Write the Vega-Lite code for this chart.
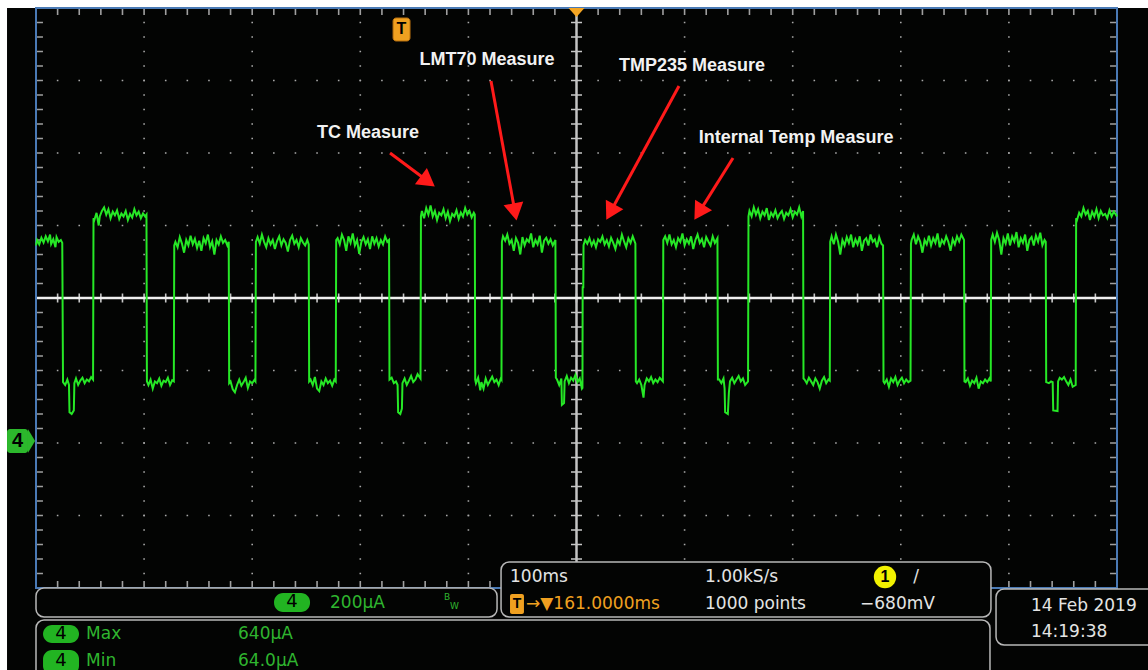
{
"$schema": "https://vega.github.io/schema/vega-lite/v6.json",
"width": 1148, "height": 670, "padding": 0, "autosize": {"type": "none"},
"background": "#ffffff",
"config": {"view": {"stroke": null}},
"encoding": {
  "x": {"field": "x", "type": "quantitative", "scale": {"domain": [-33.3, 1028.68], "nice": false, "zero": false}, "axis": null},
  "y": {"field": "y", "type": "quantitative", "scale": {"domain": [-626.21, 1222.07], "nice": false, "zero": false}, "axis": null}
},
"layer": [
  {"data": {"values": [{"x": -26.8, "x2": 1100, "y": 1200, "y2": -700}]},
   "mark": {"type": "rect", "fill": "#030403"},
   "encoding": {"x2": {"field": "x2"}, "y2": {"field": "y2"}}},
  {"data": {"values": [{"x": 100, "y": 1200, "y2": -400}, {"x": 200, "y": 1200, "y2": -400}, {"x": 300, "y": 1200, "y2": -400}, {"x": 400, "y": 1200, "y2": -400}, {"x": 600, "y": 1200, "y2": -400}, {"x": 700, "y": 1200, "y2": -400}, {"x": 800, "y": 1200, "y2": -400}, {"x": 900, "y": 1200, "y2": -400}]},
   "mark": {"type": "rule", "color": "#a8a8a8", "strokeWidth": 1.6, "strokeDash": [1.6, 12.9], "strokeDashOffset": 0.8},
   "encoding": {"y2": {"field": "y2"}}},
  {"data": {"values": [{"y": 1000, "x": 0, "x2": 1000}, {"y": 800, "x": 0, "x2": 1000}, {"y": 600, "x": 0, "x2": 1000}, {"y": 200, "x": 0, "x2": 1000}, {"y": 0, "x": 0, "x2": 1000}, {"y": -200, "x": 0, "x2": 1000}]},
   "mark": {"type": "rule", "color": "#a8a8a8", "strokeWidth": 1.6, "strokeDash": [1.6, 20.02], "strokeDashOffset": 0.8},
   "encoding": {"x2": {"field": "x2"}}},
  {"data": {"values": [{"x": 3.2, "y": 1200, "y2": -400}, {"x": 996.8, "y": 1200, "y2": -400}]},
   "mark": {"type": "rule", "color": "#a0a0a0", "strokeWidth": 7, "strokeDash": [1.6, 12.9], "strokeDashOffset": 0.8},
   "encoding": {"y2": {"field": "y2"}}},
  {"data": {"values": [{"y": 1190.3, "x": 0, "x2": 1000}, {"y": -390.3, "x": 0, "x2": 1000}]},
   "mark": {"type": "rule", "color": "#a0a0a0", "strokeWidth": 7, "strokeDash": [1.6, 20.02], "strokeDashOffset": 0.8},
   "encoding": {"x2": {"field": "x2"}}},
  {"data": {"values": [{"y": 400, "x": 0, "x2": 1000}]},
   "mark": {"type": "rule", "color": "#c8c8c8", "strokeWidth": 9, "strokeDash": [1.6, 20.02], "strokeDashOffset": 0.8},
   "encoding": {"x2": {"field": "x2"}}},
  {"data": {"values": [{"x": 500, "y": 1200, "y2": -400}]},
   "mark": {"type": "rule", "color": "#c8c8c8", "strokeWidth": 11, "strokeDash": [1.6, 12.9], "strokeDashOffset": 0.8},
   "encoding": {"y2": {"field": "y2"}}},
  {"data": {"values": [{"x": 500, "y": 1200, "y2": -400}]},
   "mark": {"type": "rule", "color": "#c4c4c4", "strokeWidth": 2.5},
   "encoding": {"y2": {"field": "y2"}}},
  {"data": {"values": [{"y": 400, "x": 0, "x2": 1000}]},
   "mark": {"type": "rule", "color": "#f0f0f0", "strokeWidth": 2.5},
   "encoding": {"x2": {"field": "x2"}}},
  {"data": {"values": [{"x": 0, "x2": 1000, "y": -400, "y2": 1200}]},
   "mark": {"type": "rect", "fillOpacity": 0, "stroke": "#4a7ab5", "strokeWidth": 2},
   "encoding": {"x2": {"field": "x2"}, "y2": {"field": "y2"}}},
  {"data": {"values": [
{"x":0,"y":545},{"x":1,"y":560},{"x":3,"y":548},{"x":5,"y":566},{"x":7,"y":553},{"x":9,"y":570},{"x":11,"y":556},{"x":13,"y":575},{"x":14,"y":549},{"x":16,"y":562},{"x":18,"y":540},{"x":19,"y":568},{"x":21,"y":555},{"x":23,"y":560},{"x":24.3,"y":552},
{"x":25,"y":168},{"x":27,"y":160},{"x":29,"y":175},{"x":30.5,"y":160},{"x":31,"y":85},{"x":33,"y":80},{"x":35,"y":90},{"x":35.5,"y":165},{"x":37,"y":178},{"x":39,"y":160},{"x":41,"y":172},{"x":43,"y":180},{"x":45,"y":165},{"x":47,"y":175},{"x":49,"y":170},{"x":51,"y":182},{"x":52.8,"y":175},
{"x":53.2,"y":620},{"x":54,"y":615},{"x":56,"y":635},{"x":58,"y":600},{"x":59,"y":625},{"x":61,"y":640},{"x":63,"y":650},{"x":65,"y":630},{"x":67,"y":645},{"x":69,"y":620},{"x":71,"y":638},{"x":73,"y":628},{"x":75,"y":642},{"x":77,"y":618},{"x":79,"y":633},{"x":81,"y":625},{"x":83,"y":640},{"x":85,"y":615},{"x":87,"y":632},{"x":89,"y":622},{"x":91,"y":645},{"x":93,"y":628},{"x":95,"y":638},{"x":97,"y":620},{"x":99,"y":633},{"x":101,"y":625},{"x":102.2,"y":630},
{"x":102.6,"y":170},{"x":104,"y":160},{"x":106,"y":175},{"x":108,"y":150},{"x":110,"y":170},{"x":112,"y":165},{"x":114,"y":178},{"x":116,"y":158},{"x":118,"y":172},{"x":120,"y":168},{"x":122,"y":180},{"x":124,"y":160},{"x":126,"y":173},{"x":127.5,"y":170},
{"x":127.9,"y":545},{"x":129,"y":555},{"x":131,"y":540},{"x":133,"y":568},{"x":135,"y":550},{"x":137,"y":525},{"x":139,"y":560},{"x":141,"y":545},{"x":143,"y":572},{"x":145,"y":548},{"x":147,"y":563},{"x":149,"y":538},{"x":151,"y":558},{"x":153,"y":530},{"x":155,"y":565},{"x":157,"y":551},{"x":159,"y":575},{"x":161,"y":540},{"x":163,"y":556},{"x":165,"y":520},{"x":167,"y":560},{"x":169,"y":548},{"x":171,"y":570},{"x":173,"y":552},{"x":175,"y":560},{"x":177,"y":545},{"x":178.3,"y":555},
{"x":178.7,"y":165},{"x":180,"y":170},{"x":182,"y":148},{"x":184,"y":140},{"x":186,"y":160},{"x":188,"y":175},{"x":190,"y":158},{"x":192,"y":168},{"x":194,"y":180},{"x":196,"y":152},{"x":198,"y":170},{"x":200,"y":165},{"x":202,"y":174},{"x":203,"y":170},
{"x":203.4,"y":555},{"x":205,"y":568},{"x":207,"y":550},{"x":209,"y":575},{"x":211,"y":555},{"x":213,"y":540},{"x":215,"y":565},{"x":217,"y":548},{"x":219,"y":560},{"x":221,"y":535},{"x":223,"y":557},{"x":225,"y":570},{"x":227,"y":545},{"x":229,"y":562},{"x":231,"y":552},{"x":233,"y":528},{"x":235,"y":560},{"x":237,"y":572},{"x":239,"y":550},{"x":241,"y":560},{"x":243,"y":540},{"x":245,"y":565},{"x":247,"y":553},{"x":249,"y":545},{"x":251,"y":560},{"x":252.3,"y":548},
{"x":252.7,"y":170},{"x":254,"y":175},{"x":256,"y":160},{"x":258,"y":182},{"x":260,"y":150},{"x":262,"y":143},{"x":264,"y":170},{"x":266,"y":160},{"x":268,"y":178},{"x":270,"y":165},{"x":272,"y":172},{"x":274,"y":158},{"x":276,"y":175},{"x":277.3,"y":170},
{"x":277.7,"y":560},{"x":279,"y":565},{"x":281,"y":548},{"x":283,"y":575},{"x":285,"y":560},{"x":287,"y":530},{"x":289,"y":570},{"x":291,"y":552},{"x":293,"y":578},{"x":295,"y":545},{"x":297,"y":560},{"x":299,"y":522},{"x":301,"y":555},{"x":303,"y":568},{"x":305,"y":548},{"x":307,"y":562},{"x":309,"y":535},{"x":311,"y":570},{"x":313,"y":550},{"x":315,"y":565},{"x":317,"y":542},{"x":319,"y":560},{"x":321,"y":548},{"x":323,"y":570},{"x":325,"y":555},{"x":326.6,"y":560},
{"x":327,"y":175},{"x":329,"y":180},{"x":331,"y":165},{"x":333,"y":170},{"x":334.5,"y":160},{"x":335,"y":85},{"x":337,"y":80},{"x":338.5,"y":95},{"x":339,"y":165},{"x":341,"y":178},{"x":343,"y":160},{"x":345,"y":172},{"x":347,"y":185},{"x":349,"y":168},{"x":351,"y":175},{"x":353,"y":190},{"x":355.7,"y":178},
{"x":356.1,"y":625},{"x":357,"y":640},{"x":359,"y":620},{"x":361,"y":648},{"x":363,"y":630},{"x":365,"y":655},{"x":367,"y":625},{"x":369,"y":640},{"x":371,"y":615},{"x":373,"y":635},{"x":375,"y":628},{"x":377,"y":645},{"x":379,"y":620},{"x":381,"y":638},{"x":383,"y":612},{"x":385,"y":632},{"x":387,"y":625},{"x":389,"y":642},{"x":391,"y":618},{"x":393,"y":636},{"x":395,"y":625},{"x":397,"y":648},{"x":399,"y":630},{"x":401,"y":640},{"x":403,"y":622},{"x":405,"y":635},{"x":405.9,"y":630},
{"x":406.3,"y":175},{"x":407,"y":165},{"x":409,"y":180},{"x":411,"y":145},{"x":412,"y":168},{"x":414,"y":150},{"x":416,"y":178},{"x":418,"y":160},{"x":420,"y":172},{"x":422,"y":183},{"x":424,"y":168},{"x":426,"y":175},{"x":428,"y":160},{"x":430,"y":178},{"x":430.6,"y":175},
{"x":431,"y":555},{"x":432,"y":570},{"x":434,"y":558},{"x":436,"y":575},{"x":438,"y":550},{"x":440,"y":560},{"x":442,"y":530},{"x":444,"y":565},{"x":446,"y":552},{"x":448,"y":520},{"x":450,"y":568},{"x":452,"y":545},{"x":454,"y":562},{"x":456,"y":555},{"x":458,"y":578},{"x":460,"y":540},{"x":462,"y":560},{"x":464,"y":548},{"x":466,"y":572},{"x":468,"y":525},{"x":470,"y":558},{"x":472,"y":566},{"x":474,"y":550},{"x":476,"y":562},{"x":478,"y":545},{"x":480.5,"y":560},
{"x":480.9,"y":180},{"x":482,"y":175},{"x":484,"y":160},{"x":486,"y":178},{"x":486.5,"y":105},{"x":488.5,"y":110},{"x":489,"y":170},{"x":491,"y":185},{"x":493,"y":165},{"x":495,"y":180},{"x":497,"y":172},{"x":499,"y":188},{"x":501,"y":168},{"x":503,"y":178},{"x":505,"y":150},{"x":505.5,"y":152},
{"x":505.7,"y":430},{"x":506.3,"y":430},{"x":506.5,"y":546},{"x":508,"y":560},{"x":510,"y":550},{"x":512,"y":565},{"x":514,"y":545},{"x":516,"y":558},{"x":518,"y":540},{"x":520,"y":562},{"x":522,"y":555},{"x":524,"y":570},{"x":526,"y":548},{"x":528,"y":560},{"x":530,"y":542},{"x":532,"y":566},{"x":534,"y":552},{"x":536,"y":535},{"x":538,"y":560},{"x":540,"y":548},{"x":542,"y":575},{"x":544,"y":556},{"x":546,"y":540},{"x":548,"y":565},{"x":550,"y":552},{"x":552,"y":570},{"x":554.5,"y":550},
{"x":554.9,"y":170},{"x":556,"y":165},{"x":558,"y":175},{"x":560,"y":160},{"x":562,"y":125},{"x":563,"y":160},{"x":565,"y":178},{"x":567,"y":170},{"x":569,"y":182},{"x":571,"y":165},{"x":573,"y":175},{"x":575,"y":168},{"x":577,"y":180},{"x":579.9,"y":170},
{"x":580.3,"y":560},{"x":582,"y":570},{"x":584,"y":552},{"x":586,"y":575},{"x":588,"y":548},{"x":590,"y":560},{"x":592,"y":540},{"x":594,"y":565},{"x":596,"y":555},{"x":598,"y":578},{"x":600,"y":545},{"x":602,"y":562},{"x":604,"y":550},{"x":606,"y":570},{"x":608,"y":535},{"x":610,"y":560},{"x":612,"y":575},{"x":614,"y":552},{"x":616,"y":563},{"x":618,"y":540},{"x":620,"y":568},{"x":622,"y":556},{"x":624,"y":545},{"x":626,"y":570},{"x":628,"y":552},{"x":630.4,"y":565},
{"x":630.8,"y":175},{"x":632,"y":175},{"x":634,"y":165},{"x":636,"y":178},{"x":637,"y":150},{"x":637.5,"y":85},{"x":640,"y":80},{"x":641,"y":140},{"x":642,"y":170},{"x":644,"y":180},{"x":646,"y":165},{"x":648,"y":175},{"x":650,"y":185},{"x":652,"y":170},{"x":654,"y":178},{"x":656,"y":160},{"x":658.7,"y":170},
{"x":659.1,"y":625},{"x":660,"y":640},{"x":662,"y":625},{"x":664,"y":650},{"x":666,"y":630},{"x":668,"y":645},{"x":670,"y":620},{"x":672,"y":638},{"x":674,"y":628},{"x":676,"y":648},{"x":678,"y":615},{"x":680,"y":635},{"x":682,"y":625},{"x":684,"y":642},{"x":686,"y":620},{"x":688,"y":632},{"x":690,"y":640},{"x":692,"y":618},{"x":694,"y":635},{"x":696,"y":628},{"x":698,"y":645},{"x":700,"y":622},{"x":702,"y":638},{"x":704,"y":630},{"x":706,"y":650},{"x":708,"y":625},{"x":709.6,"y":640},
{"x":710,"y":178},{"x":711,"y":175},{"x":713,"y":165},{"x":715,"y":180},{"x":717,"y":170},{"x":719,"y":160},{"x":721,"y":178},{"x":723,"y":168},{"x":725,"y":150},{"x":727,"y":172},{"x":729,"y":182},{"x":731,"y":165},{"x":733,"y":175},{"x":734.3,"y":172},
{"x":734.7,"y":555},{"x":736,"y":570},{"x":738,"y":548},{"x":740,"y":575},{"x":742,"y":555},{"x":744,"y":520},{"x":746,"y":560},{"x":748,"y":545},{"x":750,"y":568},{"x":752,"y":552},{"x":754,"y":575},{"x":756,"y":540},{"x":758,"y":562},{"x":760,"y":548},{"x":762,"y":570},{"x":764,"y":530},{"x":766,"y":558},{"x":768,"y":565},{"x":770,"y":545},{"x":772,"y":575},{"x":774,"y":555},{"x":776,"y":562},{"x":778,"y":540},{"x":780,"y":568},{"x":782,"y":550},{"x":783.6,"y":545},
{"x":784,"y":170},{"x":785,"y":165},{"x":787,"y":175},{"x":789,"y":155},{"x":791,"y":178},{"x":793,"y":168},{"x":795,"y":182},{"x":797,"y":160},{"x":799,"y":172},{"x":801,"y":180},{"x":803,"y":165},{"x":805,"y":175},{"x":807,"y":168},{"x":809,"y":172},
{"x":809.4,"y":550},{"x":810,"y":560},{"x":812,"y":575},{"x":814,"y":548},{"x":816,"y":570},{"x":818,"y":555},{"x":820,"y":525},{"x":822,"y":560},{"x":824,"y":548},{"x":826,"y":572},{"x":828,"y":545},{"x":830,"y":565},{"x":832,"y":552},{"x":834,"y":578},{"x":836,"y":540},{"x":838,"y":560},{"x":840,"y":550},{"x":842,"y":570},{"x":844,"y":555},{"x":846,"y":530},{"x":848,"y":562},{"x":850,"y":548},{"x":852,"y":570},{"x":854,"y":556},{"x":856,"y":575},{"x":858.5,"y":560},
{"x":858.9,"y":170},{"x":860,"y":168},{"x":862,"y":178},{"x":864,"y":158},{"x":866,"y":172},{"x":868,"y":165},{"x":870,"y":180},{"x":872,"y":150},{"x":874,"y":170},{"x":876,"y":165},{"x":878,"y":175},{"x":880,"y":168},{"x":882,"y":178},{"x":883.2,"y":170},
{"x":883.6,"y":560},{"x":885,"y":575},{"x":887,"y":555},{"x":889,"y":580},{"x":891,"y":560},{"x":893,"y":520},{"x":895,"y":565},{"x":897,"y":550},{"x":899,"y":578},{"x":901,"y":545},{"x":903,"y":570},{"x":905,"y":556},{"x":907,"y":582},{"x":909,"y":540},{"x":911,"y":565},{"x":913,"y":552},{"x":915,"y":575},{"x":917,"y":530},{"x":919,"y":560},{"x":921,"y":568},{"x":923,"y":545},{"x":925,"y":572},{"x":927,"y":555},{"x":929,"y":580},{"x":931,"y":545},{"x":933,"y":560},{"x":934.1,"y":555},
{"x":934.5,"y":168},{"x":937,"y":165},{"x":939,"y":170},{"x":940.5,"y":168},{"x":941,"y":90},{"x":945,"y":88},{"x":945.5,"y":170},{"x":947,"y":180},{"x":949,"y":175},{"x":951,"y":182},{"x":953,"y":170},{"x":955,"y":160},{"x":957,"y":175},{"x":959,"y":155},{"x":961.8,"y":160},
{"x":962.2,"y":620},{"x":963,"y":615},{"x":965,"y":635},{"x":967,"y":625},{"x":969,"y":648},{"x":971,"y":630},{"x":973,"y":640},{"x":975,"y":615},{"x":977,"y":638},{"x":979,"y":625},{"x":981,"y":645},{"x":983,"y":620},{"x":985,"y":640},{"x":987,"y":628},{"x":989,"y":632},{"x":991,"y":620},{"x":993,"y":642},{"x":995,"y":625},{"x":997,"y":638},{"x":999,"y":630},{"x":1000,"y":625}
  ]},
   "mark": {"type": "line", "color": "#26e826", "strokeWidth": 2, "interpolate": "linear"}},
  {"data": {"values": [{"x": 327.5, "y": 800.0, "x2": 362.5, "y2": 721.9}, {"x": 420.9, "y": 998.6, "x2": 443.1, "y2": 637.5}, {"x": 594.8, "y": 984.8, "x2": 531.4, "y2": 637.0}, {"x": 644.8, "y": 786.2, "x2": 613.3, "y2": 636.1}]},
   "mark": {"type": "rule", "color": "#ff1a1a", "strokeWidth": 3},
   "encoding": {"x2": {"field": "x2"}, "y2": {"field": "y2"}}},
  {"data": {"values": [{"x": 362.5, "y": 721.9, "dir": 126.7}, {"x": 443.1, "y": 637.5, "dir": 169.6}, {"x": 531.4, "y": 637.0, "dir": 208.6}, {"x": 613.3, "y": 636.1, "dir": 212}]},
   "mark": {"type": "point", "shape": "triangle-up", "filled": true, "size": 400, "color": "#ff1a1a", "opacity": 1},
   "encoding": {"angle": {"field": "dir", "type": "quantitative", "scale": null}}},
  {"data": {"values": [{"x": 307.1, "y": 855.2, "label": "TC Measure"}, {"x": 417.2, "y": 1056.6, "label": "LMT70 Measure"}, {"x": 606.8, "y": 1040.0, "label": "TMP235 Measure"}, {"x": 703.1, "y": 841.4, "label": "Internal Temp Measure"}]},
   "mark": {"type": "text", "font": "Liberation Sans", "fontSize": 18, "fontWeight": "bold", "color": "#f2f2f2", "align": "center", "baseline": "middle"},
   "encoding": {"text": {"field": "label"}}},
  {"data": {"values": [{"x": 500, "y": 1187.6}]},
   "mark": {"type": "point", "shape": "M-1,-0.55L1,-0.55L0,0.55Z", "size": 256, "filled": true, "color": "#f5a623", "opacity": 1}},
  {"data": {"values": [{"x": 330.3, "x2": 346.0, "y": 1172.4, "y2": 1109.0}]},
   "mark": {"type": "rect", "fill": "#f0a020", "cornerRadius": 3, "stroke": "#b87010", "strokeWidth": 1},
   "encoding": {"x2": {"field": "x2"}, "y2": {"field": "y2"}}},
  {"data": {"values": [{"x": 338.1, "y": 1140.7, "label": "T"}]},
   "mark": {"type": "text", "font": "Liberation Sans", "fontSize": 16, "fontWeight": "bold", "color": "#000000", "align": "center", "baseline": "middle"},
   "encoding": {"text": {"field": "label"}}},
  {"data": {"values": [{"x": -26.8, "x2": -7.4, "y": 38.6, "y2": -27.6}]},
   "mark": {"type": "rect", "fill": "#2cb82c", "cornerRadius": 3},
   "encoding": {"x2": {"field": "x2"}, "y2": {"field": "y2"}}},
  {"data": {"values": [{"x": -4.16, "y": 5.5}]},
   "mark": {"type": "point", "shape": "M-0.3,-1L0.3,0L-0.3,1Z", "size": 576, "filled": true, "color": "#2cb82c", "opacity": 1}},
  {"data": {"values": [{"x": -17.1, "y": 5.5, "label": "4"}]},
   "mark": {"type": "text", "font": "Liberation Sans", "fontSize": 20, "fontWeight": "bold", "color": "#000000", "align": "center", "baseline": "middle"},
   "encoding": {"text": {"field": "label"}}},
  {"data": {"values": [{"x": 0, "x2": 426.5, "y": -400, "y2": -480}, {"x": 0, "x2": 882.5, "y": -488.3, "y2": -709}, {"x": 430.2, "x2": 883.4, "y": -328.3, "y2": -480}, {"x": 888.1, "x2": 1049, "y": -402.8, "y2": -557.2}]},
   "mark": {"type": "rect", "fill": "#030403", "stroke": "#b8b8b8", "strokeWidth": 1.5, "cornerRadius": 8},
   "encoding": {"x2": {"field": "x2"}, "y2": {"field": "y2"}}},
  {"data": {"values": [{"x": 220.2, "x2": 253.5, "y": -413.8, "y2": -466.2}, {"x": 6.5, "x2": 39.8, "y": -502.1, "y2": -551.7}, {"x": 6.5, "x2": 39.8, "y": -571.0, "y2": -640}]},
   "mark": {"type": "rect", "fill": "#22b422", "cornerRadius": 9},
   "encoding": {"x2": {"field": "x2"}, "y2": {"field": "y2"}}},
  {"data": {"values": [{"x": 236.8, "y": -440, "label": "4"}, {"x": 23.1, "y": -526.9, "label": "4"}, {"x": 23.1, "y": -601.4, "label": "4"}]},
   "mark": {"type": "text", "font": "DejaVu Sans", "fontSize": 18, "color": "#000000", "align": "center", "baseline": "middle"},
   "encoding": {"text": {"field": "label"}}},
  {"data": {"values": [{"x": 272.0, "y": -441.4, "label": "200µA"}, {"x": 46.3, "y": -526.9, "label": "Max"}, {"x": 186.9, "y": -526.9, "label": "640µA"}, {"x": 46.3, "y": -601.4, "label": "Min"}, {"x": 186.9, "y": -601.4, "label": "64.0µA"}]},
   "mark": {"type": "text", "font": "DejaVu Sans", "fontSize": 17, "color": "#2fb52f", "align": "left", "baseline": "middle"},
   "encoding": {"text": {"field": "label"}}},
  {"data": {"values": [{"x": 377.4, "y": -424.8, "label": "B"}, {"x": 383.0, "y": -449.7, "label": "W"}]},
   "mark": {"type": "text", "font": "DejaVu Sans", "fontSize": 9, "color": "#2fb52f", "align": "left", "baseline": "middle"},
   "encoding": {"text": {"field": "label"}}},
  {"data": {"values": [{"x": 438.5, "y": -369.7, "label": "100ms"}, {"x": 618.9, "y": -369.7, "label": "1.00kS/s"}, {"x": 618.9, "y": -444.1, "label": "1000 points"}, {"x": 762.3, "y": -444.1, "label": "−680mV"}, {"x": 920.4, "y": -449.7, "label": "14 Feb  2019"}, {"x": 920.4, "y": -521.4, "label": "14:19:38"}, {"x": 811.5, "y": -369.7, "label": "/"}]},
   "mark": {"type": "text", "font": "DejaVu Sans", "fontSize": 17, "color": "#e4e4e4", "align": "left", "baseline": "middle"},
   "encoding": {"text": {"field": "label"}}},
  {"data": {"values": [{"x": 438.5, "x2": 451.4, "y": -416.6, "y2": -471.7}]},
   "mark": {"type": "rect", "fill": "#f0a020", "cornerRadius": 2},
   "encoding": {"x2": {"field": "x2"}, "y2": {"field": "y2"}}},
  {"data": {"values": [{"x": 445.0, "y": -444.1, "label": "T"}]},
   "mark": {"type": "text", "font": "Liberation Sans", "fontSize": 14, "fontWeight": "bold", "color": "#000000", "align": "center", "baseline": "middle"},
   "encoding": {"text": {"field": "label"}}},
  {"data": {"values": [{"x": 453.3, "y": -444.1, "label": "→▼161.0000ms"}]},
   "mark": {"type": "text", "font": "DejaVu Sans", "fontSize": 17, "color": "#f0a020", "align": "left", "baseline": "middle"},
   "encoding": {"text": {"field": "label"}}},
  {"data": {"values": [{"x": 785.4, "y": -369.7}]},
   "mark": {"type": "point", "shape": "circle", "size": 500, "filled": true, "color": "#f2f200", "opacity": 1}},
  {"data": {"values": [{"x": 785.4, "y": -369.7, "label": "1"}]},
   "mark": {"type": "text", "font": "Liberation Sans", "fontSize": 16, "fontWeight": "bold", "color": "#000000", "align": "center", "baseline": "middle"},
   "encoding": {"text": {"field": "label"}}}
]
}
